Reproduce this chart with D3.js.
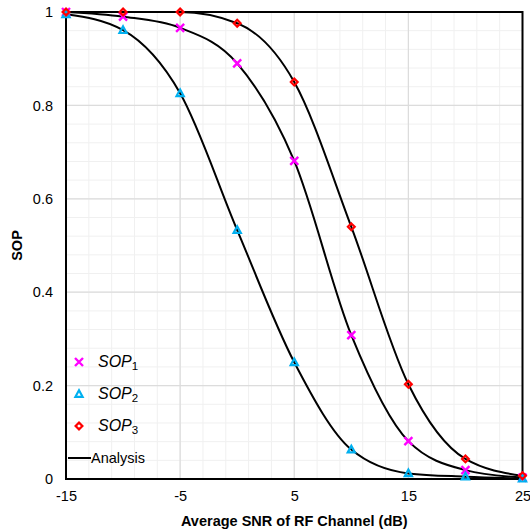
<html>
<head>
<meta charset="utf-8">
<script src="https://d3js.org/d3.v7.min.js"></script>
<style>
body { margin: 0; background: #fff; }
text { font-family: "Liberation Sans", Arial, sans-serif; }
</style>
</head>
<body>
<svg id="svg" width="530" height="532"></svg>
<script>
var snr = [-15, -10, -5, 0, 5, 10, 15, 20, 25];
var sop1 = [1.000, 0.990, 0.966, 0.890, 0.681, 0.308, 0.081, 0.019, 0.003];
var sop2 = [0.995, 0.961, 0.826, 0.533, 0.250, 0.063, 0.012, 0.005, 0.001];
var sop3 = [1.000, 1.000, 1.000, 0.976, 0.850, 0.540, 0.203, 0.043, 0.007];
var xTicks = [-15, -5, 5, 15, 25];
var yTicks = [0, 0.2, 0.4, 0.6, 0.8, 1];

var svg = d3.select("svg");
var pLeft = 66, pRight = 522.5, pTop = 12, pBottom = 479;

var x = d3.scaleLinear().domain([-15, 25]).range([pLeft, pRight]);
var y = d3.scaleLinear().domain([0, 1]).range([pBottom, pTop]);

// grid
var grid = svg.append("g");
grid.selectAll(".vminor").data(d3.range(-15, 25.01, 2)).enter().append("line")
    .attr("x1", d => x(d)).attr("x2", d => x(d)).attr("y1", pTop).attr("y2", pBottom)
    .attr("stroke", "#f0f0f0").attr("stroke-width", 1);
grid.selectAll(".hminor").data(d3.range(0, 1.001, 0.04)).enter().append("line")
    .attr("y1", d => y(d)).attr("y2", d => y(d)).attr("x1", pLeft).attr("x2", pRight)
    .attr("stroke", "#f0f0f0").attr("stroke-width", 1);
grid.selectAll(".vmajor").data(d3.range(-15, 25.01, 10)).enter().append("line")
    .attr("x1", d => x(d)).attr("x2", d => x(d)).attr("y1", pTop).attr("y2", pBottom)
    .attr("stroke", "#dcdcdc").attr("stroke-width", 1.2);
grid.selectAll(".hmajor").data(yTicks).enter().append("line")
    .attr("y1", d => y(d)).attr("y2", d => y(d)).attr("x1", pLeft).attr("x2", pRight)
    .attr("stroke", "#dcdcdc").attr("stroke-width", 1.2);

// frame
svg.append("rect").attr("x", pLeft).attr("y", pTop)
    .attr("width", pRight - pLeft).attr("height", pBottom - pTop)
    .attr("fill", "none").attr("stroke", "#000").attr("stroke-width", 2);

// axes
var xAxis = svg.append("g").attr("transform", "translate(0," + pBottom + ")")
    .call(d3.axisBottom(x).tickValues(xTicks).tickSize(0).tickPadding(12)
        .tickFormat(d => String(d)));
var yAxis = svg.append("g").attr("transform", "translate(" + pLeft + ",0)")
    .call(d3.axisLeft(y).tickValues(yTicks).tickSize(0).tickPadding(13)
        .tickFormat(d => String(+d.toFixed(1))));
[xAxis, yAxis].forEach(function(a) {
    a.select(".domain").remove();
    a.selectAll("text").attr("font-size", 14.5).attr("fill", "#000")
        .attr("font-family", "Liberation Sans, Arial, sans-serif");
});

svg.append("text").attr("x", (pLeft + pRight) / 2).attr("y", 526)
    .attr("text-anchor", "middle").attr("font-size", 14.5).attr("font-weight", "bold")
    .text("Average SNR of RF Channel (dB)");
svg.append("text").attr("transform", "translate(22," + y(0.5) + ") rotate(-90)")
    .attr("text-anchor", "middle").attr("font-size", 14.5).attr("font-weight", "bold")
    .text("SOP");

// analysis lines
var line = d3.line().x(d => x(d[0])).y(d => y(d[1])).curve(d3.curveMonotoneX);
[sop1, sop2, sop3].forEach(function(s) {
    svg.append("path").attr("d", line(d3.zip(snr, s)))
        .attr("fill", "none").attr("stroke", "#000").attr("stroke-width", 2);
});

// markers
function cross(g, cx, cy) {
    g.append("path").attr("d", "M" + (cx - 4) + "," + (cy - 4) + "L" + (cx + 4) + "," + (cy + 4) +
        "M" + (cx + 4) + "," + (cy - 4) + "L" + (cx - 4) + "," + (cy + 4))
        .attr("stroke", "#ff00ff").attr("stroke-width", 2.4).attr("fill", "none");
}
function tri(g, cx, cy) {
    g.append("path").attr("d", "M" + cx + "," + (cy - 3.8) + "L" + (cx + 3.6) + "," + (cy + 2.8) +
        "L" + (cx - 3.6) + "," + (cy + 2.8) + "Z")
        .attr("stroke", "#00b0f0").attr("stroke-width", 2.2).attr("fill", "none");
}
function diamond(g, cx, cy) {
    g.append("path").attr("d", "M" + cx + "," + (cy - 3.4) + "L" + (cx + 3.4) + "," + cy +
        "L" + cx + "," + (cy + 3.4) + "L" + (cx - 3.4) + "," + cy + "Z")
        .attr("stroke", "#ff0000").attr("stroke-width", 2.2).attr("fill", "none");
}
var mk = svg.append("g");
snr.forEach(function(v, i) { cross(mk, x(v), y(sop1[i])); });
snr.forEach(function(v, i) { tri(mk, x(v), y(sop2[i])); });
snr.forEach(function(v, i) { diamond(mk, x(v), y(sop3[i])); });

// legend
var legend = [
    { sub: "1", draw: cross, y: 362 },
    { sub: "2", draw: tri, y: 394 },
    { sub: "3", draw: diamond, y: 426 }
];
legend.forEach(function(l) {
    l.draw(svg, 79, l.y);
    var t = svg.append("text").attr("x", 98).attr("y", l.y + 5)
        .attr("font-family", "Liberation Serif, DejaVu Serif, serif")
        .attr("font-size", 16);
    t.append("tspan").attr("font-style", "italic").text("SOP");
    t.append("tspan").attr("font-size", 11.5).attr("dy", 3).text(l.sub);
});
svg.append("line").attr("x1", 68).attr("x2", 91).attr("y1", 458).attr("y2", 458)
    .attr("stroke", "#000").attr("stroke-width", 2);
svg.append("text").attr("x", 91).attr("y", 463).attr("font-size", 14.5).text("Analysis");
</script>
</body>
</html>
